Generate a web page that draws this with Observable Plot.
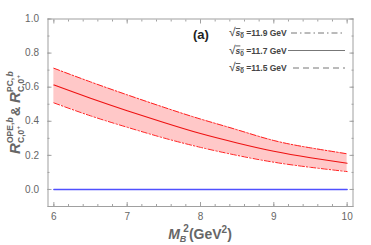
<!DOCTYPE html>
<html><head><meta charset="utf-8">
<script src="https://cdn.jsdelivr.net/npm/d3@7"></script>
<script src="https://cdn.jsdelivr.net/npm/@observablehq/plot@0.6"></script>
<style>
body{margin:0;background:#fff;}
#chart svg{display:block;font-family:"Liberation Sans",Arial,sans-serif;}
</style></head>
<body><div id="chart"></div>
<script>
const mb2 = [6, 6.5, 7, 7.5, 8, 8.5, 9, 9.5, 10];
const central = [0.613, 0.535, 0.462, 0.393, 0.328, 0.273, 0.224, 0.186, 0.154]; // sqrt(s0)=11.7
const upper   = [0.711, 0.631, 0.555, 0.482, 0.413, 0.350, 0.287, 0.244, 0.209]; // sqrt(s0)=11.9
const lower   = [0.508, 0.432, 0.365, 0.302, 0.247, 0.200, 0.160, 0.130, 0.105]; // sqrt(s0)=11.5
const blueX = [6, 10];
const blueY = [0, 0];
const xTicks = [6, 7, 8, 9, 10];
const yTicks = [0, 0.2, 0.4, 0.6, 0.8, 1.0];
const xMinor = d3.range(30, 51).map(d => d / 5);
const yMinor = d3.range(-1, 11).map(d => d / 10);
const legendLabels = ["11.9", "11.7", "11.5"];

const rows = mb2.map((x, i) => ({x, c: central[i], u: upper[i], l: lower[i]}));
const blue = blueX.map((x, i) => ({x, y: blueY[i]}));
const frameC = "#a0a0a0";
const textC = "#666";
const noText = () => "";

const plot = Plot.plot({
  width: 371, height: 245,
  marginLeft: 47.5, marginRight: 18.5, marginTop: 18.5, marginBottom: 39,
  x: {domain: [5.92, 10.08]},
  y: {domain: [-0.1, 1.0]},
  marks: [
    Plot.areaY(rows, {x: "x", y1: "l", y2: "u", fill: "#ffc8c8", curve: "natural"}),
    Plot.lineY(rows, {x: "x", y: "u", stroke: "#ff2020", strokeWidth: 1, strokeDasharray: "6,2,1.5,2", curve: "natural"}),
    Plot.lineY(rows, {x: "x", y: "l", stroke: "#ff2020", strokeWidth: 1, strokeDasharray: "6,2,1.5,2", curve: "natural"}),
    Plot.lineY(rows, {x: "x", y: "c", stroke: "#ee1111", strokeWidth: 1.1, curve: "natural"}),
    Plot.lineY(blue, {x: "x", y: "y", stroke: "#5050ff", strokeWidth: 1.5}),
    Plot.frame({stroke: frameC}),
    Plot.axisX({ticks: xTicks, tickSize: 0, tickPadding: 6, tickFormat: d3.format("d"), fontSize: 10, color: textC, label: null}),
    Plot.axisY({ticks: yTicks, tickSize: 0, tickPadding: 9, tickFormat: d3.format(".1f"), fontSize: 10, color: textC, label: null}),
    Plot.axisX({anchor: "bottom", ticks: xTicks, tickSize: -4, tickFormat: noText, stroke: frameC, label: null}),
    Plot.axisX({anchor: "bottom", ticks: xMinor, tickSize: -2, tickFormat: noText, stroke: frameC, label: null}),
    Plot.axisX({anchor: "top", ticks: xTicks, tickSize: -4, tickFormat: noText, stroke: frameC, label: null}),
    Plot.axisX({anchor: "top", ticks: xMinor, tickSize: -2, tickFormat: noText, stroke: frameC, label: null}),
    Plot.axisY({anchor: "left", ticks: yTicks, tickSize: -4, tickFormat: noText, stroke: frameC, label: null}),
    Plot.axisY({anchor: "left", ticks: yMinor, tickSize: -2, tickFormat: noText, stroke: frameC, label: null}),
    Plot.axisY({anchor: "right", ticks: yTicks, tickSize: -4, tickFormat: noText, stroke: frameC, label: null}),
    Plot.axisY({anchor: "right", ticks: yMinor, tickSize: -2, tickFormat: noText, stroke: frameC, label: null})
  ]
});
document.getElementById("chart").append(plot);

const svg = d3.select(plot);
// x label
const xl = svg.append("text").attr("x", 200).attr("y", 239).attr("text-anchor", "middle")
  .attr("fill", textC).attr("font-weight", "bold").attr("font-size", 14);
xl.append("tspan").attr("font-style", "italic").text("M");
xl.append("tspan").attr("font-size", 9).attr("font-style", "italic").attr("dy", 3).text("B");
xl.append("tspan").attr("font-size", 10).attr("dx", -3).attr("dy", -10).text("2");
xl.append("tspan").attr("dy", 7).text("(GeV");
xl.append("tspan").attr("font-size", 10).attr("dy", -6).text("2");
xl.append("tspan").attr("dy", 6).text(")");

// y label (rotated group; local x = -screen y)
const g = svg.append("g").attr("transform", "translate(20,0) rotate(-90)")
  .attr("fill", textC).attr("font-weight", "bold").attr("text-anchor", "start");
function part(x, y, size, txt, italic) {
  g.append("text").attr("x", x).attr("y", y).attr("font-size", size)
    .attr("font-style", italic ? "italic" : "normal").attr("text-anchor", "start").text(txt);
}
part(-154, 0, 15, "R", true);
part(-143, -7, 8.5, "OPE,", false);
part(-122.5, -7, 8.5, "b", true);
part(-143, 3.5, 8.5, "C,0", false);
part(-129.5, -0.5, 6, "+", false);
part(-116, 0, 13, "&", false);
part(-103, 0, 15, "R", true);
part(-92, -7, 8.5, "PC,", false);
part(-76.5, -7, 8.5, "b", true);
part(-92, 3.5, 8.5, "C,0", false);
part(-78.5, -0.5, 6, "+", false);

// panel tag
svg.append("text").attr("x", 193).attr("y", 39).attr("text-anchor", "start").attr("font-size", 13).attr("font-weight", "bold")
  .attr("fill", "#222").text("(a)");

// legend
const dashes = ["6,3,1.5,3", null, "6,4"];
const ys = [36, 53.5, 71];
const lineStart = [291, 288, 293];
legendLabels.forEach((lab, i) => {
  const t = svg.append("text").attr("x", 229).attr("y", ys[i]).attr("text-anchor", "start")
    .attr("font-size", 8.5).attr("font-weight", "bold").attr("fill", "#444");
  t.append("tspan").attr("font-size", 12).attr("font-weight", "normal").text("√");
  t.append("tspan").attr("font-style", "italic").attr("text-decoration", "overline").text("s");
  t.append("tspan").attr("font-size", 6.5).attr("dy", 2).attr("text-decoration", "overline").text("0");
  t.append("tspan").attr("dy", -2).text(" =" + lab + " GeV");
  svg.append("line").attr("x1", lineStart[i]).attr("x2", 345).attr("y1", ys[i] - 3).attr("y2", ys[i] - 3)
    .attr("stroke", "#777").attr("stroke-width", 1).attr("stroke-dasharray", dashes[i]);
});
</script></body></html>
